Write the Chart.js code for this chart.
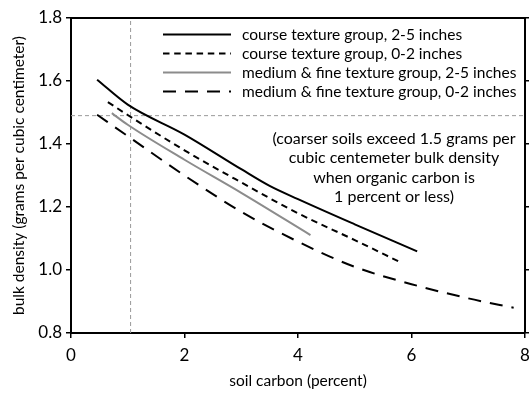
<!DOCTYPE html>
<html>
<head>
<meta charset="utf-8">
<script src="https://cdn.jsdelivr.net/npm/chart.js@4.4.1/dist/chart.umd.min.js"></script>
<style>
  html, body { margin: 0; padding: 0; background: #fff; }
</style>
</head>
<body>
<canvas id="myChart" width="531" height="393"></canvas>
<script>
// values
var seriesLabels = [
  'course texture group, 2-5 inches',
  'course texture group, 0-2 inches',
  'medium & fine texture group, 2-5 inches',
  'medium & fine texture group, 0-2 inches'
];
var coarse25Carbon  = [0.46, 1.0, 2.0, 3.0, 3.5, 4.0, 5.0, 6.1];
var coarse25Density = [1.604, 1.525, 1.43, 1.32, 1.267, 1.225, 1.145, 1.059];
var coarse02Carbon  = [0.65, 1.0, 2.0, 3.0, 4.0, 5.0, 5.8];
var coarse02Density = [1.533, 1.492, 1.38, 1.278, 1.18, 1.095, 1.025];
var medium25Carbon  = [0.72, 1.0, 2.0, 3.0, 4.22];
var medium25Density = [1.498, 1.461, 1.35, 1.245, 1.111];
var medium02Carbon  = [0.46, 1.0, 2.0, 3.0, 4.0, 5.0, 6.0, 7.0, 7.8];
var medium02Density = [1.493, 1.425, 1.30, 1.185, 1.09, 1.01, 0.955, 0.91, 0.88];

var refCarbon = 1.05;   // vertical guide
var refDensity = 1.49;  // horizontal guide

var xTickValues = [0, 2, 4, 6, 8];
var yTickValues = [0.8, 1.0, 1.2, 1.4, 1.6, 1.8];

var noteLines = [
  '(coarser soils exceed 1.5 grams per',
  'cubic centemeter bulk density',
  'when organic carbon is',
  '1 percent or less)'
];

var FONT = 'Lato, "Open Sans", sans-serif';

function pts(xs, ys) {
  return xs.map(function (x, i) { return {x: x, y: ys[i]}; });
}

var legendLines = {
  id: 'legendLines',
  afterDraw: function (chart) {
    var c = chart.ctx;
    c.save();
    c.font = '15.5px ' + FONT;
    c.fillStyle = '#000';
    c.textBaseline = 'middle';
    for (var i = 0; i < 4; i++) {
      var ds = chart.data.datasets[i];
      var y = 34.5 + i * 19;
      c.strokeStyle = ds.borderColor;
      c.lineWidth = ds.borderWidth;
      c.setLineDash(ds.borderDash || []);
      c.beginPath();
      c.moveTo(163, y);
      c.lineTo(231, y);
      c.stroke();
      c.fillText(ds.label, 242, y);
    }
    c.restore();
  }
};

var noteText = {
  id: 'noteText',
  afterDraw: function (chart) {
    var c = chart.ctx;
    c.save();
    c.font = '16px ' + FONT;
    c.fillStyle = '#000';
    c.textAlign = 'center';
    c.textBaseline = 'middle';
    noteLines.forEach(function (t, i) {
      c.fillText(t, 394, 139 + i * 19.3);
    });
    c.restore();
  }
};

function setTicks(values) {
  return function (scale) {
    scale.ticks = values.map(function (v) { return {value: v}; });
  };
}

var ctx = document.getElementById('myChart').getContext('2d');
var myChart = new Chart(ctx, {
  type: 'line',
  data: {
    datasets: [{
        label: seriesLabels[0],
        data: pts(coarse25Carbon, coarse25Density),
        borderColor: '#000',
        borderWidth: 2,
        borderDash: []
      }, {
        label: seriesLabels[1],
        data: pts(coarse02Carbon, coarse02Density),
        borderColor: '#000',
        borderWidth: 2,
        borderDash: [6.5, 4.7]
      }, {
        label: seriesLabels[2],
        data: pts(medium25Carbon, medium25Density),
        borderColor: '#8c8c8c',
        borderWidth: 2,
        borderDash: []
      }, {
        label: seriesLabels[3],
        data: pts(medium02Carbon, medium02Density),
        borderColor: '#000',
        borderWidth: 2,
        borderDash: [13, 9]
      }, {
        label: 'guide x',
        data: [{x: refCarbon, y: 0.8}, {x: refCarbon, y: 1.8}],
        borderColor: '#999',
        borderWidth: 1,
        borderDash: [4, 3],
        tension: 0,
        cubicInterpolationMode: 'default'
      }, {
        label: 'guide y',
        data: [{x: 0, y: refDensity}, {x: 8, y: refDensity}],
        borderColor: '#999',
        borderWidth: 1,
        borderDash: [4, 3],
        tension: 0,
        cubicInterpolationMode: 'default'
      }
    ]
  },
  options: {
    responsive: false,
    animation: false,
    layout: { padding: 0, autoPadding: false },
    elements: {
      point: { radius: 0 },
      line: { cubicInterpolationMode: 'monotone', fill: false }
    },
    plugins: {
      legend: { display: false },
      tooltip: { enabled: false }
    },
    scales: {
      x: {
        type: 'linear',
        position: 'bottom',
        min: 0, max: 8,
        afterBuildTicks: setTicks(xTickValues),
        afterFit: function (s) {
          s.height = 60;
          s.paddingLeft = 0;
          s.paddingRight = 0;   // let the "8" hang over the edge
        },
        ticks: { color: '#000', font: { family: FONT, size: 17 }, padding: 7, maxRotation: 0 },
        grid: { drawOnChartArea: false, tickLength: 5, color: '#000', lineWidth: 1.5 },
        border: { color: '#000', width: 2 },
        title: {
          display: true,
          text: 'soil carbon (percent)',
          color: '#000',
          font: { family: FONT, size: 15.5 },
          padding: { top: 0, bottom: 3 }
        }
      },
      x2: {
        type: 'linear',
        position: 'top',
        min: 0, max: 8,
        afterFit: function (s) { s.height = 18; },
        ticks: { display: false },
        grid: { display: false, drawTicks: false },
        border: { color: '#000', width: 2 }
      },
      y: {
        position: 'left',
        min: 0.8, max: 1.8,
        afterBuildTicks: setTicks(yTickValues),
        afterFit: function (s) { s.width = 71; },
        ticks: {
          color: '#000',
          font: { family: FONT, size: 17 },
          padding: 4,
          callback: function (v) { return v.toFixed(1); }
        },
        grid: { drawOnChartArea: false, tickLength: 5, color: '#000', lineWidth: 1.5 },
        border: { color: '#000', width: 2 },
        title: {
          display: true,
          text: 'bulk density (grams per cubic centimeter)',
          color: '#000',
          font: { family: FONT, size: 15.5 },
          padding: { top: 10, bottom: 0 }
        }
      },
      y2: {
        position: 'right',
        min: 0.8, max: 1.8,
        afterBuildTicks: setTicks(yTickValues),
        afterFit: function (s) { s.width = 6; },
        ticks: { display: false },
        grid: { drawOnChartArea: false, tickLength: 4, color: '#000', lineWidth: 1.5 },
        border: { color: '#000', width: 2 }
      }
    }
  },
  plugins: [legendLines, noteText]
});
</script>
</body>
</html>
